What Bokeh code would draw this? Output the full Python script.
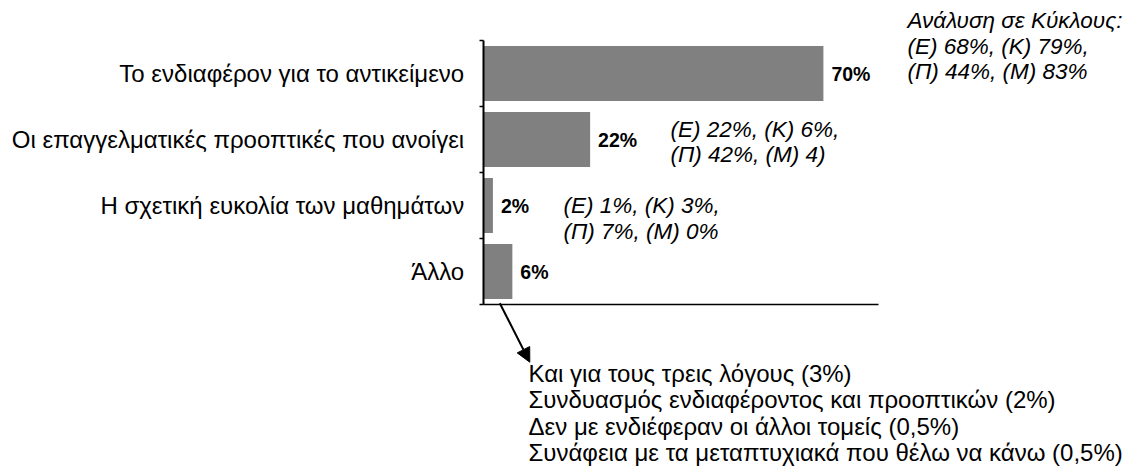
from bokeh.plotting import figure
from bokeh.models import Arrow, NormalHead, FixedTicker, Range1d
from bokeh.core.properties import value
from bokeh.embed import file_html
from bokeh.resources import INLINE

# ---- data ----
categories = [
    "Το ενδιαφέρον για το αντικείμενο",
    "Οι επαγγελματικές προοπτικές που ανοίγει",
    "Η σχετική ευκολία των μαθημάτων",
    "Άλλο",
]
values = [70, 22, 2, 6]
value_labels = ["70%", "22%", "2%", "6%"]
breakdown_top = ["Ανάλυση σε Κύκλους:", "(Ε) 68%, (Κ) 79%,", "(Π) 44%, (Μ) 83%"]
breakdown_second = ["(Ε) 22%, (Κ) 6%,", "(Π) 42%, (Μ) 4)"]
breakdown_third = ["(Ε) 1%, (Κ) 3%,", "(Π) 7%, (Μ) 0%"]
other_reasons = [
    "Και για τους τρεις λόγους (3%)",
    "Συνδυασμός ενδιαφέροντος και προοπτικών (2%)",
    "Δεν με ενδιέφεραν οι άλλοι τομείς (0,5%)",
    "Συνάφεια με τα μεταπτυχιακά που θέλω να κάνω (0,5%)",
]
x_axis_end = 81.3

# ---- layout (pixels) ----
FONT = "Liberation Sans"
W, H = 1132, 471
AX0 = 482.7        # pixel of value 0
PX_PER_PCT = 4.86
TOP = 40           # pixel of the top category edge
BAND = 66          # pixels per category band

n = len(categories)
ys = [n - 1 - i for i in range(n)]

def dx(px):  # px -> data x
    return (px - AX0) / PX_PER_PCT

def dy(py):  # px -> data y
    return (n - 0.5) - (py - TOP) / BAND

p = figure(
    width=W, height=H,
    x_range=Range1d(dx(0), dx(W)),
    y_range=Range1d(dy(H), dy(0)),
    output_backend="svg", toolbar_location=None, min_border=0,
)
p.outline_line_color = None
p.xgrid.visible = False
p.ygrid.visible = False

p.hbar(y=ys, left=0, right=values, height=0.83, fill_color="#808080", line_color=None)
p.text(x=values, y=ys, text=value_labels, x_offset=8, text_align="left",
       text_baseline="middle", text_font=value(FONT), text_font_size="19.5px",
       text_font_style="bold", text_color="black")

# y axis: labels at category centres, ticks at category boundaries
yax = p.yaxis[0]
yax.fixed_location = 0
yax.bounds = (-0.5, n - 0.5)
yax.ticker = FixedTicker(ticks=ys, minor_ticks=[y - 0.5 for y in ys] + [n - 0.5])
yax.major_label_overrides = {y: c for y, c in zip(ys, categories)}
yax.major_tick_out = 0
yax.major_tick_in = 0
yax.minor_tick_out = 4
yax.minor_tick_in = 0
yax.minor_tick_line_color = "black"
yax.minor_tick_line_width = 1.5
yax.axis_line_color = "black"
yax.axis_line_width = 2
yax.major_label_standoff = 15
yax.major_label_text_font = FONT
yax.major_label_text_font_size = "24px"
yax.major_label_text_color = "black"

xax = p.xaxis[0]
xax.fixed_location = -0.5
xax.bounds = (0, x_axis_end)
xax.ticker = FixedTicker(ticks=[])
xax.axis_line_color = "black"
xax.axis_line_width = 1.5
xax.major_tick_line_color = None
xax.minor_tick_line_color = None

def note(x_px, first_center_px, lines, line_px, size, style="italic"):
    p.text(x=[dx(x_px)] * len(lines),
           y=[dy(first_center_px + i * line_px) for i in range(len(lines))],
           text=lines, text_font=value(FONT), text_font_size=size,
           text_font_style=style, text_color="black",
           text_align="left", text_baseline="middle")

note(907, 20, breakdown_top, 25.5, "22.5px")
note(670, 129, breakdown_second, 25, "22.5px")
note(563, 205, breakdown_third, 25.5, "22.5px")
note(528, 373, other_reasons, 26.3, "24px", style="normal")

p.add_layout(Arrow(x_start=dx(499.3), y_start=dy(302.7), x_end=dx(529.3), y_end=dy(361.7),
                   line_color="black", line_width=2,
                   end=NormalHead(size=14, fill_color="black", line_color="black")))

open("out.html", "w").write(file_html(p, INLINE))
